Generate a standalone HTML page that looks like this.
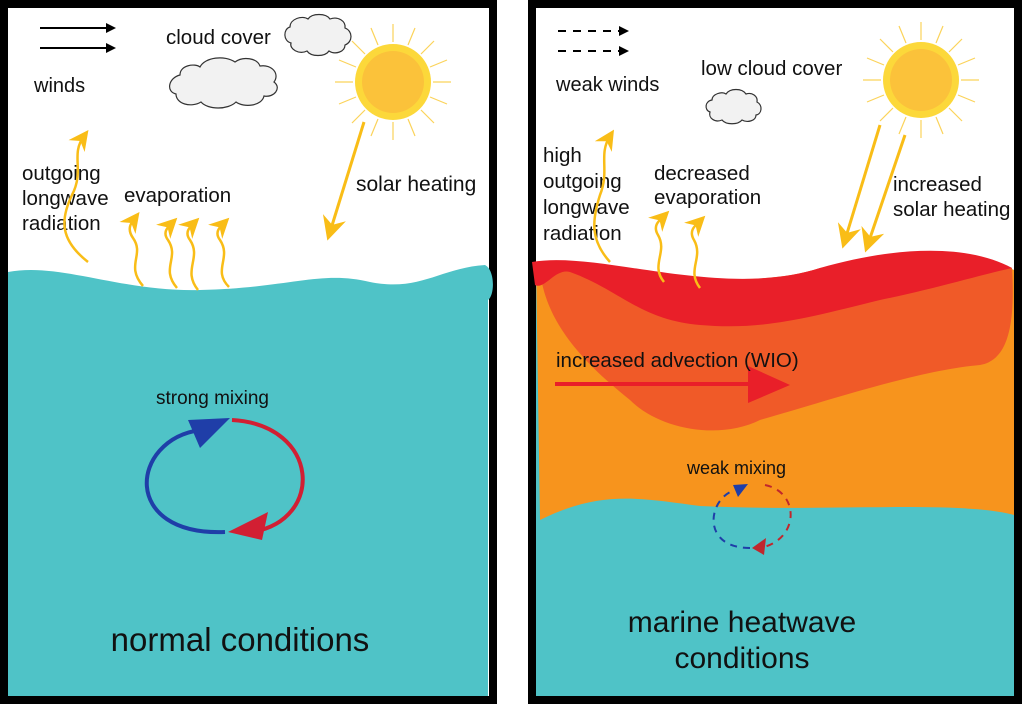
<!DOCTYPE html>
<html><head><style>body{margin:0;background:#fff}svg{display:block}text{font-family:"Liberation Sans",sans-serif;fill:#111}</style></head><body>
<svg width="1024" height="704" viewBox="0 0 1024 704" xmlns="http://www.w3.org/2000/svg">
<defs>
<marker id="ah" markerWidth="8" markerHeight="8" refX="5" refY="4" orient="auto" markerUnits="strokeWidth"><path d="M0,0 L8,4 L0,8 L2.5,4 z" fill="#f9bd17"/></marker>
<marker id="bk" markerWidth="5" markerHeight="5" refX="3" refY="2.5" orient="auto" markerUnits="strokeWidth"><path d="M0,0 L5,2.5 L0,5 z" fill="#000"/></marker>
<g id="sun">
<g stroke="#fbd35a" stroke-width="1.2">
<line x1="0" y1="-58" x2="0" y2="-40"/><line x1="0" y1="58" x2="0" y2="40"/><line x1="-58" y1="0" x2="-40" y2="0"/><line x1="58" y1="0" x2="40" y2="0"/>
<line x1="41" y1="41" x2="28" y2="28"/><line x1="-41" y1="41" x2="-28" y2="28"/><line x1="41" y1="-41" x2="28" y2="-28"/><line x1="-41" y1="-41" x2="-28" y2="-28"/>
<line x1="22" y1="-54" x2="15" y2="-37"/><line x1="-22" y1="-54" x2="-15" y2="-37"/><line x1="22" y1="54" x2="15" y2="37"/><line x1="-22" y1="54" x2="-15" y2="37"/>
<line x1="54" y1="22" x2="37" y2="15"/><line x1="-54" y1="22" x2="-37" y2="15"/><line x1="54" y1="-22" x2="37" y2="-15"/><line x1="-54" y1="-22" x2="-37" y2="-15"/>
</g>
<circle r="38" fill="#fcd83a"/><circle r="31" fill="#fbc23a"/>
</g>
</defs>
<!-- LEFT PANEL -->
<rect x="4" y="4" width="489" height="696" fill="#fff" stroke="#000" stroke-width="8"/>
<path d="M8,272 C60,262 120,292 200,290 C290,288 320,270 370,282 C420,292 440,268 485,265 C495,270 495,295 488,300 L488,696 L8,696 Z" fill="#4fc3c7"/>
<line x1="40" y1="28" x2="112" y2="28" stroke="#000" stroke-width="2" marker-end="url(#bk)"/>
<line x1="40" y1="48" x2="112" y2="48" stroke="#000" stroke-width="2" marker-end="url(#bk)"/>
<text x="34" y="92" font-size="20">winds</text>
<text x="166" y="44" font-size="20.5">cloud cover</text>
<path d="M180,75 c0,-10 15,-12 20,-8 c5,-10 25,-12 35,-5 c8,-6 22,-4 25,4 c12,-2 20,8 14,16 c8,6 0,16 -10,14 c-2,10 -20,12 -28,6 c-8,8 -28,8 -35,0 c-10,6 -25,2 -25,-8 c-10,-2 -8,-16 4,-19 z" fill="#f2f2f2" stroke="#333" stroke-width="1.2"/>
<path d="M290,27 c0,-8 12,-12 18,-8 c4,-6 18,-6 22,0 c8,-3 16,2 15,9 c8,3 8,14 0,17 c0,7 -10,10 -16,6 c-4,6 -18,6 -22,0 c-8,4 -18,-2 -16,-8 c-8,-2 -8,-14 -1,-16 z" fill="#f2f2f2" stroke="#333" stroke-width="1.2"/>
<use href="#sun" x="393" y="82"/>
<line x1="364" y1="122" x2="330" y2="232" stroke="#f9bd17" stroke-width="3" marker-end="url(#ah)"/>
<text x="356" y="191" font-size="21">solar heating</text>
<text x="22" y="180" font-size="20.5">outgoing</text>
<text x="22" y="205" font-size="20.5">longwave</text>
<text x="22" y="230" font-size="20.5">radiation</text>
<text x="124" y="202" font-size="20.5">evaporation</text>
<g fill="none" stroke="#f9bd17" stroke-width="2.5">
<path d="M88,262 C60,240 60,220 72,195 C85,170 70,155 84,136" marker-end="url(#ah)"/>
<path d="M143,286 C125,265 145,255 133,238 C126,228 132,222 135,218" marker-end="url(#ah)"/>
<path d="M177,288 C160,268 180,258 168,240 C162,232 168,227 172,223" marker-end="url(#ah)"/>
<path d="M198,290 C182,270 202,258 190,240 C184,232 190,227 194,223" marker-end="url(#ah)"/>
<path d="M229,287 C212,270 232,258 220,240 C214,232 220,227 224,223" marker-end="url(#ah)"/>
</g>
<text x="156" y="404" font-size="19">strong mixing</text>
<path d="M232,420 C320,425 325,520 252,532" fill="none" stroke="#d21f33" stroke-width="4"/>
<polygon points="228,532 268,512 262,540" fill="#d21f33"/>
<path d="M225,532 C120,536 130,440 200,430" fill="none" stroke="#1f3ea8" stroke-width="4"/>
<polygon points="230,418 188,420 200,448" fill="#1f3ea8"/>
<text x="240" y="651" font-size="33" text-anchor="middle">normal conditions</text>
<!-- RIGHT PANEL -->
<rect x="532" y="4" width="486" height="696" fill="#fff" stroke="#000" stroke-width="8"/>
<path d="M536,262 C600,255 720,300 820,270 C900,250 960,245 1014,270 L1014,696 L536,696 Z" fill="#4fc3c7"/>
<path d="M536,262 C600,255 720,300 820,270 C900,250 960,245 1014,270 L1014,515 C960,500 820,512 700,506 C640,498 600,490 540,520 Z" fill="#f7941d"/>
<path d="M540,270 C580,250 720,300 820,268 C900,250 960,248 1012,268 C1015,320 1010,360 980,365 C920,370 830,400 760,420 C720,440 660,430 630,400 C580,360 545,320 540,270 Z" fill="#f05a28"/>
<path d="M532,262 C600,250 720,300 820,268 C900,245 970,245 1012,268 C980,275 930,290 880,300 C800,320 760,330 700,325 C640,320 620,290 570,272 C555,268 545,290 535,285 Z" fill="#e91f29"/>
<line x1="555" y1="384" x2="760" y2="384" stroke="#e91f29" stroke-width="4"/>
<polygon points="748,366 790,385 748,403" fill="#e91f29"/>
<text x="556" y="367" font-size="20.5">increased advection (WIO)</text>
<text x="687" y="474" font-size="18">weak mixing</text>
<path d="M765,485 C800,492 800,540 760,548" fill="none" stroke="#c0272d" stroke-width="2" stroke-dasharray="7,6"/>
<polygon points="752,548 766,538 764,555" fill="#c0272d"/>
<path d="M750,548 C700,548 708,498 735,490" fill="none" stroke="#1f3ea8" stroke-width="2" stroke-dasharray="7,6"/>
<polygon points="748,484 733,485 738,497" fill="#1f3ea8"/>
<text x="742" y="632" font-size="30" text-anchor="middle">marine heatwave</text>
<text x="742" y="668" font-size="30" text-anchor="middle">conditions</text>
<line x1="558" y1="31" x2="625" y2="31" stroke="#000" stroke-width="2" stroke-dasharray="8,7" marker-end="url(#bk)"/>
<line x1="558" y1="51" x2="625" y2="51" stroke="#000" stroke-width="2" stroke-dasharray="8,7" marker-end="url(#bk)"/>
<text x="556" y="91" font-size="20">weak winds</text>
<text x="701" y="75" font-size="20.5">low cloud cover</text>
<path d="M712,100 c0,-6 10,-9 14,-6 c4,-6 16,-6 20,0 c6,-2 12,2 11,8 c6,3 5,12 -1,13 c0,6 -9,8 -14,5 c-4,5 -16,5 -20,0 c-7,3 -14,-2 -12,-8 c-6,-2 -5,-11 2,-12 z" fill="#f2f2f2" stroke="#333" stroke-width="1.2"/>
<use href="#sun" x="921" y="80"/>
<line x1="880" y1="125" x2="845" y2="240" stroke="#f9bd17" stroke-width="3" marker-end="url(#ah)"/>
<line x1="905" y1="135" x2="868" y2="244" stroke="#f9bd17" stroke-width="3" marker-end="url(#ah)"/>
<text x="893" y="191" font-size="20.5">increased</text>
<text x="893" y="216" font-size="20.5">solar heating</text>
<text x="543" y="162" font-size="20.5">high</text>
<text x="543" y="188" font-size="20.5">outgoing</text>
<text x="543" y="214" font-size="20.5">longwave</text>
<text x="543" y="240" font-size="20.5">radiation</text>
<text x="654" y="180" font-size="20.5">decreased</text>
<text x="654" y="204" font-size="20.5">evaporation</text>
<g fill="none" stroke="#f9bd17" stroke-width="2.5">
<path d="M610,262 C590,240 592,220 600,195 C610,170 598,155 610,136" marker-end="url(#ah)"/>
<path d="M664,282 C650,265 668,252 658,235 C652,225 660,220 664,216" marker-end="url(#ah)"/>
<path d="M700,288 C686,270 704,258 694,240 C688,230 696,225 700,221" marker-end="url(#ah)"/>
</g>
</svg>
</body></html>
